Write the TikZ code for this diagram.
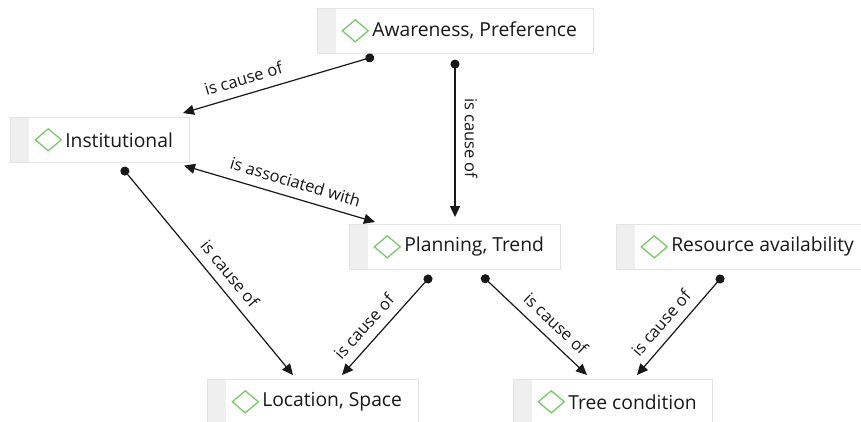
\documentclass[tikz,border=0pt]{standalone}
\usepackage{fontspec}
\setmainfont{Open Sans}
\usetikzlibrary{arrows.meta}

\definecolor{boxline}{HTML}{E4E4E4}
\definecolor{stripgray}{HTML}{EFEFEF}
\definecolor{icongreen}{HTML}{78C96A}
\definecolor{inkdark}{HTML}{181818}

\begin{document}
\begin{tikzpicture}
    [x=1pt, y=-1pt,
    concept/.style={draw=boxline, line width=0.6pt, fill=white, anchor=north west,
        minimum height=45pt, inner ysep=0pt, inner xsep=16pt, text=inkdark,
        font=\fontsize{19.3}{21}\selectfont, execute at begin node={\hspace*{39pt}},
        path picture={
            \fill[stripgray] (path picture bounding box.north west)
                rectangle ([xshift=19pt]path picture bounding box.south west);
            \draw[icongreen, line width=1.3pt]
                ([xshift=25pt]path picture bounding box.west) -- ++(13pt,11pt)
                -- ++(13pt,-11pt) -- ++(-13pt,-11pt) -- cycle;}},
    rel/.style={draw=inkdark, line width=1.2pt,
        {Circle[length=9pt]}-{Triangle[length=11pt,width=10pt]}},
    both/.style={draw=inkdark, line width=1.2pt,
        {Triangle[length=11pt,width=10pt]}-{Triangle[length=11pt,width=10pt]}},
    lbl/.style={sloped, above=9pt, inner sep=0pt, text=inkdark,
        font=\fontsize{16.5}{18}\selectfont}]
    \useasboundingbox[fill=white] (0,0) rectangle (861,421);

    % concepts
    \node[concept] (A) at (317,8)   {Awareness, Preference};
    \node[concept] (I) at (10,117)  {Institutional};
    \node[concept] (P) at (349,224) {Planning, Trend};
    \node[concept] (R) at (616,224) {Resource availability};
    \node[concept] (L) at (207,379) {Location, Space};
    \node[concept] (T) at (513,379) {Tree condition};

    % relations
    \draw[rel] ([shift={(57,3)}]A.south west) to
        node[lbl, pos=0.66] {is cause of} ([shift={(173,-4)}]I.north west);
    \draw[rel] ([shift={(138,6)}]A.south west) to
        node[lbl, pos=0.5] {is cause of} ([shift={(106,-7)}]P.north west);
    \draw[both] ([shift={(174,3)}]I.south west) to
        node[lbl, pos=0.56] {is associated with} ([shift={(26,-2)}]P.north west);
    \draw[rel] ([shift={(112,5)}]I.south west) to
        node[lbl, pos=0.56] {is cause of} ([shift={(86,-4)}]L.north west);
    \draw[rel] ([shift={(82,6)}]P.south west) to
        node[lbl, pos=0.62] {is cause of} ([shift={(135,-4)}]L.north west);
    \draw[rel] ([shift={(133,6)}]P.south west) to
        node[lbl, pos=0.6] {is cause of} ([shift={(74,-4)}]T.north west);
    \draw[rel] ([shift={(107,6)}]R.south west) to
        node[lbl, pos=0.58] {is cause of} ([shift={(124,-4)}]T.north west);
\end{tikzpicture}
\end{document}
